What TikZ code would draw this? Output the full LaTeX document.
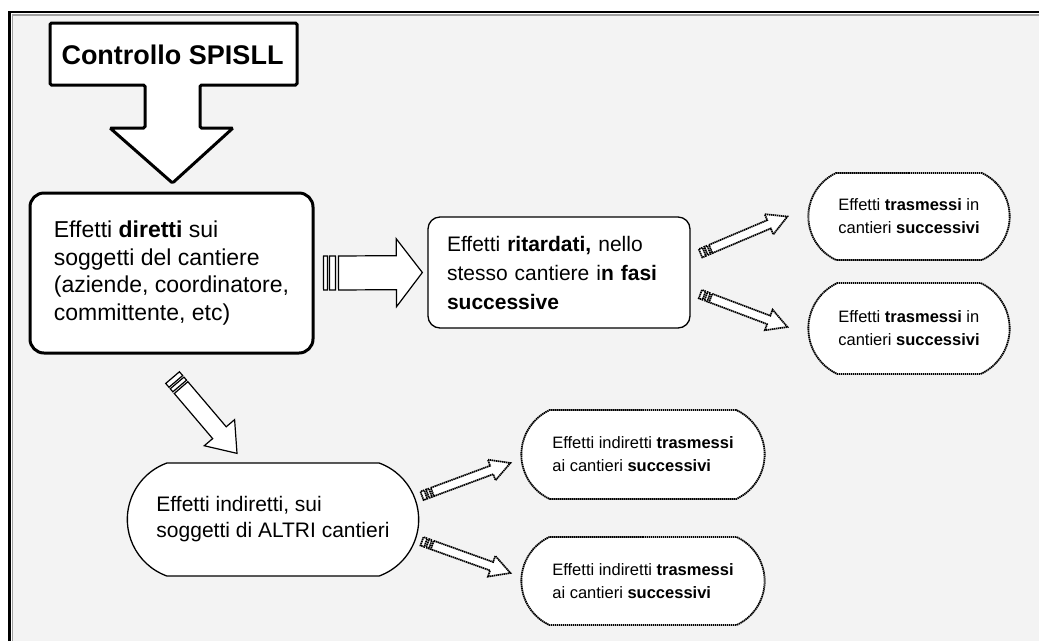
\documentclass[tikz,border=0pt]{standalone}
\usepackage{fontspec}
\setmainfont{Liberation Sans}
\usetikzlibrary{calc,shapes.misc}

\definecolor{panelgray}{HTML}{F3F3F3}
\definecolor{framegray}{HTML}{A0A0A0}

\newcommand{\blkarrow}[6][]{%
  \draw[#1] let \p1=(#2), \p2=(#3), \n1={atan2(\y2-\y1,\x2-\x1)}, \n2={veclen(\x2-\x1,\y2-\y1)} in
    ($(\p1)+(\n1+90:#4)$) -- ++(\n1:\n2-#6) -- ++(\n1+90:#5-#4) -- (\p2)
    -- ($(\p2)+(\n1+180:#6)+(\n1-90:#5)$) -- ++(\n1+90:#5-#4) -- ++(\n1+180:\n2-#6) -- cycle;
}
\newcommand{\tailbars}[5][]{%
  \foreach \da/\db in {#5}
    \draw[#1] let \p1=(#2), \p2=(#3), \n1={atan2(\y2-\y1,\x2-\x1)} in
      ($(\p1)+(\n1+180:\da)+(\n1+90:#4)$) -- ($(\p1)+(\n1+180:\db)+(\n1+90:#4)$)
      -- ($(\p1)+(\n1+180:\db)+(\n1-90:#4)$) -- ($(\p1)+(\n1+180:\da)+(\n1-90:#4)$) -- cycle;
}

\begin{document}
\begin{tikzpicture}[x=1pt,y=-1pt]
    \tikzset{
      box/.style = {draw, fill=white, align=left},
      dirbox/.style = {box, line width=3, rounded corners=14, minimum width=283, minimum height=160, font=\fontsize{23}{27.5}\selectfont},
      ritbox/.style = {box, line width=1.3, rounded corners=12, text width=224, inner xsep=19, minimum height=111, font=\fontsize{21}{29}\selectfont},
      indbox/.style = {box, rounded rectangle, rounded rectangle arc length=140, line width=1.3, minimum width=298, minimum height=113, font=\fontsize{21}{26}\selectfont},
      cloud/.style = {box, rounded rectangle, rounded rectangle arc length=130, line width=1.8, dash pattern=on 1.4pt off 0.6pt, font=\fontsize{16.5}{23}\selectfont},
      bigarrow/.style = {draw, fill=white, line width=1.2},
      dotarrow/.style = {draw, fill=white, line width=1.7, dash pattern=on 1.4pt off 0.6pt}
    }

    \useasboundingbox (0,0) rectangle (1039,641);
    \fill[panelgray] (12,15) rectangle (1039,641);
    \draw[line width=2.5] (9.5,641) -- (9.5,12) -- (1039,12);
    \draw[framegray, line width=1.5] (12.5,641) -- (12.5,15) -- (1039,15);

    \draw[line width=3, fill=white, rounded corners=1.5] (50,23) -- (297,23) -- (297,85) -- (200,85) -- (200,128) -- (233,128)
      -- (172.5,183) -- (110,128) -- (145,128) -- (145,85) -- (50,85) -- cycle;
    \node[font=\fontsize{27}{31}\selectfont\bfseries] (ctrl) at (172.5,55) {Controllo SPISLL};

    \node[dirbox] (dir) at (171.5,273) {Effetti \textbf{diretti} sui\\soggetti del cantiere\\(aziende, coordinatore,\\committente, etc)};
    \node[ritbox] (rit) at (559,272.5) {Effetti \textbf{ritardati,} nello\\stesso cantiere i\textbf{n fasi}\\\textbf{successive}};
    \node[cloud, minimum width=208, minimum height=87] (tr1) at (909,216.5) {Effetti \textbf{trasmessi} in\\cantieri \textbf{successivi}};
    \node[cloud, minimum width=208, minimum height=91] (tr2) at (909,328.5) {Effetti \textbf{trasmessi} in\\cantieri \textbf{successivi}};
    \node[indbox] (ind) at (273,519.5) {Effetti indiretti, sui\\soggetti di ALTRI cantieri};
    \node[cloud, minimum width=250, minimum height=89] (bl1) at (643,454.5) {Effetti indiretti \textbf{trasmessi}\\ai cantieri \textbf{successivi}};
    \node[cloud, minimum width=250, minimum height=88] (bl2) at (643,581) {Effetti indiretti \textbf{trasmessi}\\ai cantieri \textbf{successivi}};

    \blkarrow[bigarrow]{[xshift=24]dir.east}{[xshift=-5]rit.west}{17pt}{34pt}{26pt}
    \tailbars[bigarrow]{[xshift=24]dir.east}{[xshift=-5]rit.west}{17pt}{3pt/9pt,11pt/15pt}
    \blkarrow[bigarrow]{[xshift=9.5,yshift=-33]dir.south}{[xshift=-36,yshift=9]ind.north}{9pt}{20pt}{27pt}
    \tailbars[bigarrow]{[xshift=9.5,yshift=-33]dir.south}{[xshift=-36,yshift=9]ind.north}{9pt}{2pt/6pt,8pt/13pt}

    \blkarrow[dotarrow]{[xshift=20,yshift=23.5]rit.east}{[xshift=-20]tr1.west}{4.5pt}{11pt}{20pt}
    \tailbars[dotarrow]{[xshift=20,yshift=23.5]rit.east}{[xshift=-20]tr1.west}{4.5pt}{2pt/5pt,7pt/11pt}
    \blkarrow[dotarrow]{[xshift=20,yshift=-25.5]rit.east}{[xshift=-20,yshift=1.5]tr2.west}{4.5pt}{11pt}{20pt}
    \tailbars[dotarrow]{[xshift=20,yshift=-25.5]rit.east}{[xshift=-20,yshift=1.5]tr2.west}{4.5pt}{2pt/5pt,7pt/11pt}
    \blkarrow[dotarrow]{[xshift=13,yshift=27.5]ind.east}{[xshift=-10,yshift=-8.5]bl1.west}{4.5pt}{11pt}{20pt}
    \tailbars[dotarrow]{[xshift=13,yshift=27.5]ind.east}{[xshift=-10,yshift=-8.5]bl1.west}{4.5pt}{2pt/5pt,7pt/11pt}
    \blkarrow[dotarrow]{[xshift=13,yshift=-25.5]ind.east}{[xshift=-10,yshift=8]bl2.west}{4.5pt}{11pt}{20pt}
    \tailbars[dotarrow]{[xshift=13,yshift=-25.5]ind.east}{[xshift=-10,yshift=8]bl2.west}{4.5pt}{2pt/5pt,7pt/11pt}
\end{tikzpicture}
\end{document}
